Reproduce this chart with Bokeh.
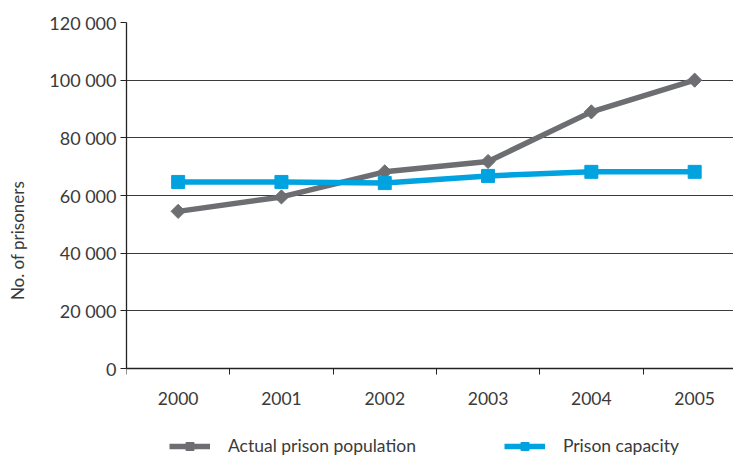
import math
from bokeh.plotting import figure
from bokeh.models import FixedTicker, Legend, LegendItem, Range1d
from bokeh.embed import file_html
from bokeh.resources import INLINE

years = [2000, 2001, 2002, 2003, 2004, 2005]
actual_population = [54500, 59500, 68200, 71800, 89000, 100000]
prison_capacity = [64700, 64700, 64300, 66800, 68200, 68200]
y_ticks = [0, 20000, 40000, 60000, 80000, 100000, 120000]
y_tick_labels = ["0", "20 000", "40 000", "60 000", "80 000", "100 000", "120 000"]

FONT = "Lato"
GRAY = "#6d6e71"
BLUE = "#00a3e0"
TXT = "#3a3a3a"

# frame: top at 22px, value 0 at 368px, frame bottom at 458px (room for axis labels + legend)
y_bottom = -120000 * 90 / 346

p = figure(width=733, height=458, output_backend="svg", toolbar_location=None,
           x_range=Range1d(1999.5, 2005.376), y_range=Range1d(y_bottom, 120000),
           min_border_left=126, min_border_right=0, min_border_top=22, min_border_bottom=0)
p.outline_line_color = None
p.background_fill_color = "white"

# axes
p.xaxis.fixed_location = 0
p.xaxis.ticker = FixedTicker(ticks=years, minor_ticks=[y - 0.5 for y in years] + [2005.5])
p.xaxis.major_tick_out = 0
p.xaxis.major_tick_in = 0
p.xaxis.minor_tick_out = 6
p.xaxis.minor_tick_in = 0
p.xaxis.minor_tick_line_color = "#222222"
p.xaxis.axis_line_color = "#222222"
p.xaxis.axis_line_width = 1.3
p.xaxis.major_label_standoff = 17
p.xaxis.major_label_text_font = FONT
p.xaxis.major_label_text_font_size = "17.5px"
p.xaxis.major_label_text_color = TXT

p.yaxis.bounds = (0, 120000)
p.yaxis.ticker = FixedTicker(ticks=y_ticks, minor_ticks=[])
p.yaxis.major_label_overrides = {t: l for t, l in zip(y_ticks, y_tick_labels)}
p.yaxis.major_tick_out = 6
p.yaxis.major_tick_in = 0
p.yaxis.major_tick_line_color = "#222222"
p.yaxis.axis_line_color = "#222222"
p.yaxis.axis_line_width = 1.3
p.yaxis.major_label_standoff = 4
p.yaxis.major_label_text_font = FONT
p.yaxis.major_label_text_font_size = "18px"
p.yaxis.major_label_text_color = TXT
p.yaxis.axis_label = "No. of prisoners"
p.yaxis.axis_label_text_font = FONT
p.yaxis.axis_label_text_font_size = "17px"
p.yaxis.axis_label_text_font_style = "normal"
p.yaxis.axis_label_text_color = TXT
p.yaxis.axis_label_standoff = 18

p.xgrid.grid_line_color = None
p.ygrid.ticker = FixedTicker(ticks=y_ticks[1:])
p.ygrid.grid_line_color = "#3a3a3a"
p.ygrid.grid_line_width = 1.2

# series
l1 = p.line(years, actual_population, line_color=GRAY, line_width=5.5)
s1 = p.scatter(years, actual_population, marker="square", angle=math.pi / 4, size=10,
               fill_color=GRAY, line_color=GRAY)
l2 = p.line(years, prison_capacity, line_color=BLUE, line_width=5.5)
s2 = p.scatter(years, prison_capacity, marker="square", size=13, fill_color=BLUE, line_color=BLUE)

legend = Legend(items=[LegendItem(label="Actual prison population", renderers=[l1, s1]),
                       LegendItem(label="Prison capacity", renderers=[l2, s2])],
                orientation="horizontal", location=(43, 2))
legend.border_line_color = None
legend.background_fill_alpha = 0
legend.padding = 0
legend.margin = 0
legend.glyph_width = 41
legend.glyph_height = 20
legend.label_standoff = 18
legend.spacing = 88
legend.label_text_font = FONT
legend.label_text_font_size = "17.5px"
legend.label_text_color = TXT
p.add_layout(legend, "center")

open("out.html", "w").write(file_html(p, INLINE))
